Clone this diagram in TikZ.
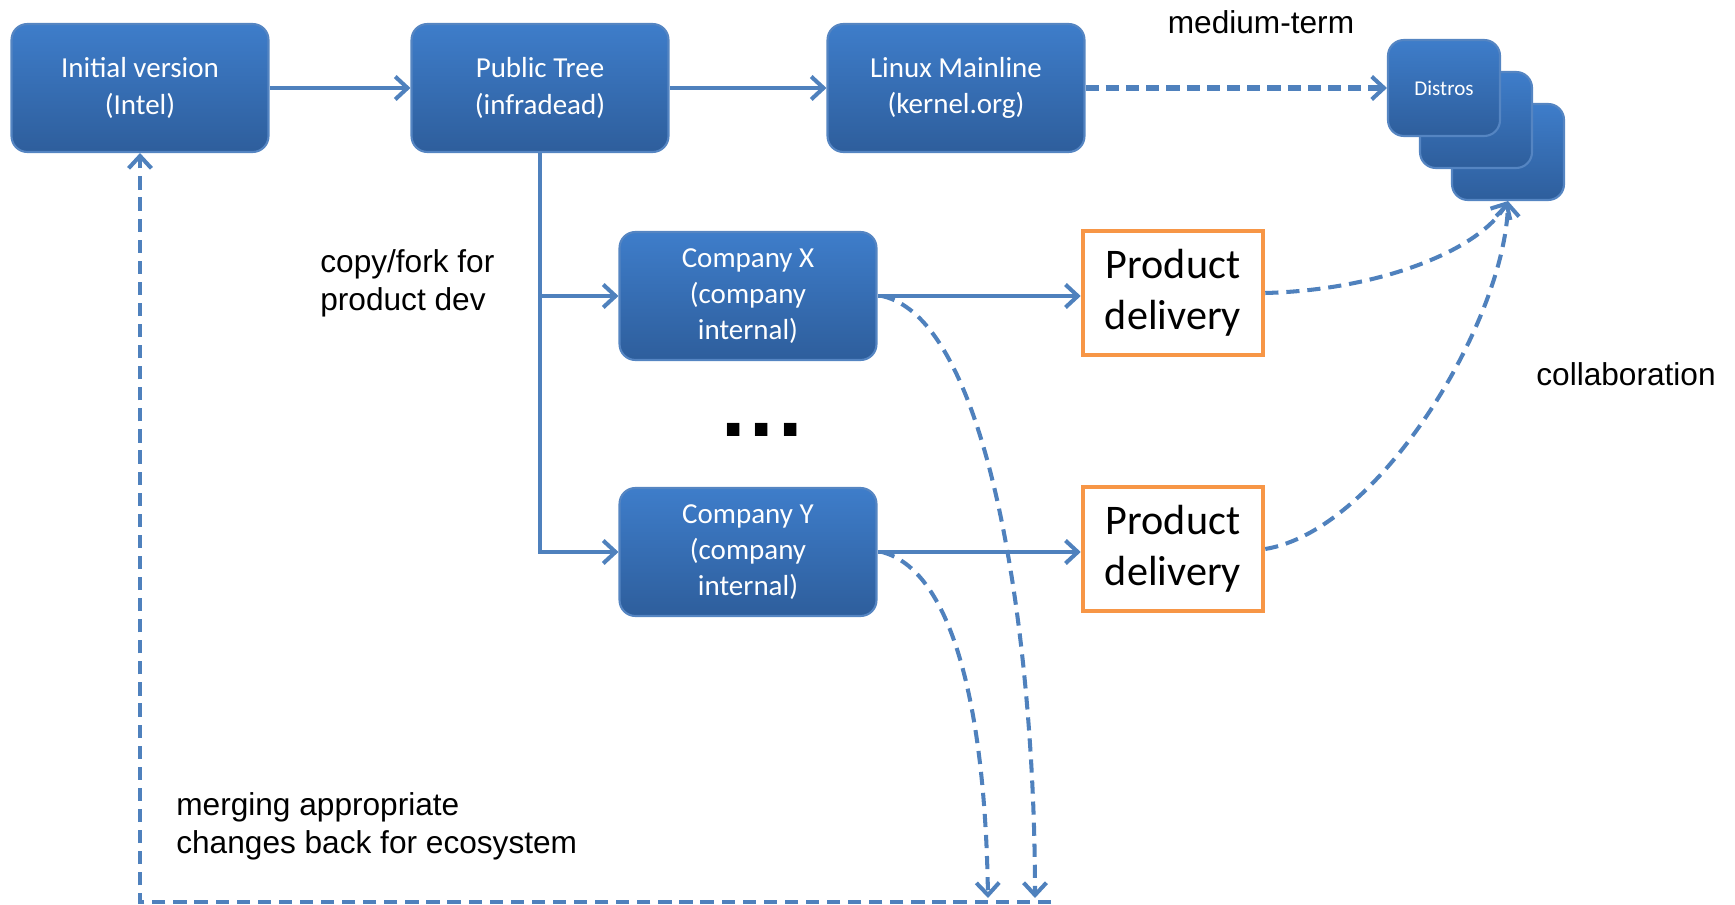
\documentclass[tikz,border=0pt]{standalone}
\usepackage{fontspec}
\setmainfont{Carlito}
\newfontfamily\arialf{Liberation Sans}
\usetikzlibrary{arrows.meta}
\definecolor{boxtop}{HTML}{3E7DCA}
\definecolor{boxbot}{HTML}{2E5E9C}
\definecolor{boxedge}{HTML}{5585C2}
\definecolor{conn}{HTML}{4F81BD}
\definecolor{orng}{HTML}{F79646}
\tikzset{
  bluebox/.style={rounded corners=9pt, draw=boxedge, line width=1.2pt,
    top color=boxtop, bottom color=boxbot, text=white, align=center,
    minimum width=5.14cm, minimum height=2.56cm, inner sep=0pt,
    font=\fontsize{16.5}{20.6}\selectfont},
  distbox/.style={bluebox, minimum width=2.24cm, minimum height=1.92cm,
    font=\fontsize{12}{14}\selectfont},
  prodbox/.style={draw=orng, line width=2.6pt, fill=white, align=center,
    minimum width=3.6cm, minimum height=2.48cm, inner sep=0pt,
    font=\fontsize{24}{29}\selectfont},
  lbl/.style={font=\arialf\fontsize{18}{21.6}\selectfont, align=left, inner sep=0pt},
  barb/.tip={Straight Barb[length=7pt,width=13pt,line width=2.3pt]},
  solidarrow/.style={draw=conn, line width=2.3pt, -barb},
  dashthick/.style={draw=conn, line width=2.9pt, dash pattern=on 7.5pt off 4pt, -barb},
  dasharrow/.style={draw=conn, line width=2.3pt, dash pattern=on 7.5pt off 4.5pt, -barb},
}
\begin{document}
\begin{tikzpicture}[x=0.02cm,y=-0.02cm]
\useasboundingbox (0,0) rectangle (1735,905);
% nodes
\node[bluebox] (init) at (140,88) {Initial version\\(Intel)};
\node[bluebox] (pub) at (540,88) {Public Tree\\(infradead)};
\node[bluebox] (linux) at (956,88) {Linux Mainline\\(kernel.org)};
\node[distbox] (d3) at (1508,152) {};
\node[distbox] (d2) at (1476,120) {};
\node[distbox] (d1) at (1444,88) {Distros};
\node[bluebox] (cx) at (748,296) {Company X\\(company\\internal)};
\node[bluebox] (cy) at (748,552) {Company Y\\(company\\internal)};
\node[prodbox] (p1) at (1173,293) {Product\\delivery};
\node[prodbox] (p2) at (1173,549) {Product\\delivery};
\node[font=\arialf\bfseries\fontsize{50}{50}\selectfont, inner sep=0pt, anchor=base] (dots) at (762,437) {.\kern2.5pt.\kern2.5pt.};
% labels
\node[lbl] (lmed) at (1261,22) {medium-term};
\node[lbl, anchor=west] (lcopy) at (320,283) {copy/fork for\\product dev};
\node[lbl, anchor=west] (lcol) at (1536,374) {collaboration};
\node[lbl, anchor=west] (lmerge) at (176,826) {merging appropriate\\changes back for ecosystem};
% coordinates
\coordinate (bl) at (140,902);
\coordinate (br) at (1051,902);
\coordinate (bx) at (1035,898);
\coordinate (by) at (988,898);
\coordinate (cxs) at (882,296);
\coordinate (cys) at (882,552);
% connectors
\draw[solidarrow] (init) -- (pub);
\draw[solidarrow] (pub) -- (linux);
\draw[dashthick] (linux) -- (d1);
\draw[solidarrow] (pub.south) |- (cxs -| cx.west);
\draw[solidarrow] (pub.south) |- (cys -| cy.west);
\draw[solidarrow] (cxs -| cx.east) -- (cxs -| p1.west);
\draw[solidarrow] (cys -| cy.east) -- (cys -| p2.west);
\draw[dasharrow] (p1.east) .. controls (1380,290) and (1480,250) .. (d3.south);
\draw[dasharrow] (p2.east) .. controls (1380,530) and (1505,320) .. (d3.south);
\draw[dasharrow] (cxs) .. controls (990,320) and (1035,640) .. (bx);
\draw[dasharrow] (cys) .. controls (950,570) and (985,700) .. (by);
\draw[dasharrow] (br) -- (bl) -- (init.south);
\end{tikzpicture}
\end{document}
